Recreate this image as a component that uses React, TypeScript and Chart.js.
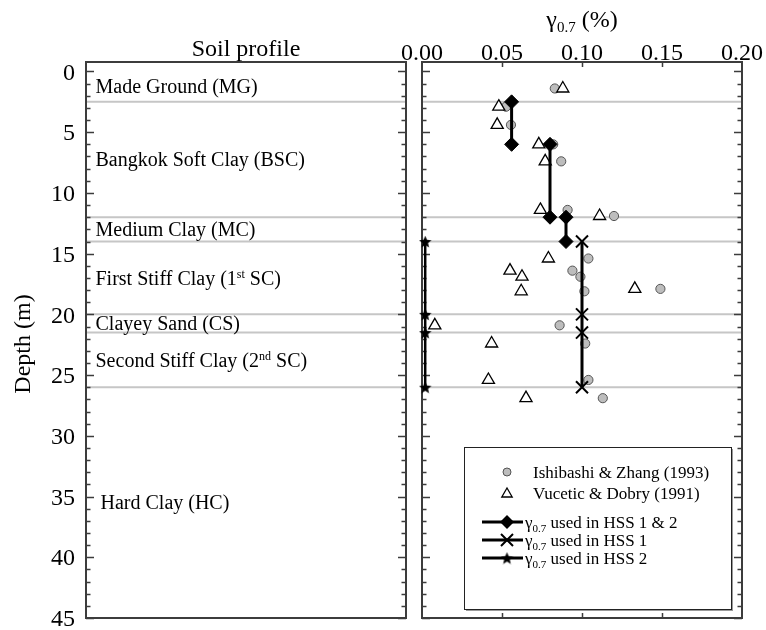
import React, { useEffect, useRef } from "react";
import { Chart, registerables } from "chart.js";

Chart.register(...registerables);

const FONT = '"Liberation Serif", "Times New Roman", serif';

// Depth axis (m), drawn downwards
const depthMin = -0.78;
const depthMax = 45;
const depthTicks = [0, 5, 10, 15, 20, 25, 30, 35, 40, 45];

// Threshold shear strain axis (%)
const strainTicks = [0, 0.05, 0.1, 0.15, 0.2];

// Soil profile: layer boundaries (m) and names
const layerBoundaries = [0, 2.5, 12, 14, 20, 21.5, 26, 45];
const layerNames = [
  "Made Ground (MG)",
  "Bangkok Soft Clay (BSC)",
  "Medium Clay (MC)",
  "First Stiff Clay (1^{st} SC)",
  "Clayey Sand (CS)",
  "Second Stiff Clay (2^{nd} SC)",
  " Hard Clay (HC)",
];

// Empirical γ0.7 estimates at sample depths
const sampleDepths = [1.4, 2.9, 4.4, 6.0, 7.4, 11.4, 11.9, 15.4, 16.4, 16.9, 17.9, 18.1, 20.9, 22.4, 25.4, 26.9];
const ishibashiGamma = [0.083, 0.0525, 0.0556, 0.082, 0.087, 0.091, 0.12, 0.104, 0.094, 0.099, 0.149, 0.1015, 0.086, 0.102, 0.104, 0.113];
const vuceticGamma = [0.088, 0.048, 0.047, 0.073, 0.077, 0.074, 0.111, 0.079, 0.055, 0.0625, 0.133, 0.062, 0.008, 0.0435, 0.0415, 0.065];

// Design values of γ0.7
const hss12Depths = [2.5, 6, 6, 12, 12, 14];
const hss12Gamma = [0.056, 0.056, 0.08, 0.08, 0.09, 0.09];
const hss1Depths = [14, 20, 21.5, 26];
const hss1Gamma = [0.1, 0.1, 0.1, 0.1];
const hss2Depths = [14, 20, 21.5, 26];
const hss2Gamma = [0.002, 0.002, 0.002, 0.002];

const legendLabels = [
  "Ishibashi & Zhang (1993)",
  "Vucetic & Dobry (1991)",
  "γ_{0.7} used in HSS 1 & 2",
  "γ_{0.7} used in HSS 1",
  "γ_{0.7} used in HSS 2",
];

const xTitle = "γ_{0.7} (%)";
const leftTitle = "Soil profile";
const yTitle = "Depth (m)";

const FRAME = "#3c3c3c";
const LAYER_LINE = "#c6c6c6";

type Run = { text: string; kind: "n" | "sub" | "sup" };

function parseRich(s: string): Run[] {
  const runs: Run[] = [];
  const re = /([_^])\{([^}]*)\}/g;
  let last = 0;
  let m: RegExpExecArray | null;
  while ((m = re.exec(s))) {
    if (m.index > last) runs.push({ text: s.slice(last, m.index), kind: "n" });
    runs.push({ text: m[2], kind: m[1] === "_" ? "sub" : "sup" });
    last = re.lastIndex;
  }
  if (last < s.length) runs.push({ text: s.slice(last), kind: "n" });
  return runs;
}

function drawRich(
  ctx: CanvasRenderingContext2D,
  s: string,
  x: number,
  yMid: number,
  size: number,
  align: "left" | "center" | "right"
) {
  const runs = parseRich(s);
  const fontFor = (k: string) => `${k === "n" ? size : Math.round(size * 0.62)}px ${FONT}`;
  let total = 0;
  const widths = runs.map((r) => {
    ctx.font = fontFor(r.kind);
    const w = ctx.measureText(r.text).width;
    total += w;
    return w;
  });
  let cx = align === "center" ? x - total / 2 : align === "right" ? x - total : x;
  const base = yMid + size * 0.34;
  ctx.save();
  ctx.fillStyle = "#000";
  ctx.textAlign = "left";
  ctx.textBaseline = "alphabetic";
  runs.forEach((r, i) => {
    ctx.font = fontFor(r.kind);
    const dy = r.kind === "sub" ? size * 0.22 : r.kind === "sup" ? -size * 0.36 : 0;
    ctx.fillText(r.text, cx, base + dy);
    cx += widths[i];
  });
  ctx.restore();
}

function makeStar(size: number): HTMLCanvasElement {
  const c = document.createElement("canvas");
  c.width = size;
  c.height = size;
  const g = c.getContext("2d")!;
  const cx = size / 2;
  const cy = size / 2 + size * 0.05;
  const ro = size / 2;
  const ri = ro * 0.45;
  g.beginPath();
  for (let i = 0; i < 10; i++) {
    const r = i % 2 === 0 ? ro : ri;
    const a = -Math.PI / 2 + (i * Math.PI) / 5;
    const px = cx + r * Math.cos(a);
    const py = cy + r * Math.sin(a);
    if (i === 0) g.moveTo(px, py);
    else g.lineTo(px, py);
  }
  g.closePath();
  g.fillStyle = "#000";
  g.fill();
  return c;
}

// Frame with inward depth ticks on both sides, and layer boundaries
function drawPanel(chart: any) {
  const { ctx, chartArea: a } = chart;
  const y = chart.scales.y;
  ctx.save();
  ctx.strokeStyle = LAYER_LINE;
  ctx.lineWidth = 2;
  layerBoundaries.slice(1, -1).forEach((d) => {
    const py = y.getPixelForValue(d);
    ctx.beginPath();
    ctx.moveTo(a.left, py);
    ctx.lineTo(a.right, py);
    ctx.stroke();
  });
  ctx.strokeStyle = FRAME;
  ctx.lineWidth = 1.5;
  for (let d = 0; d <= depthMax; d++) {
    const py = Math.round(y.getPixelForValue(d)) + 0.5;
    const len = d % 5 === 0 ? 8 : 4.5;
    ctx.beginPath();
    ctx.moveTo(a.left, py);
    ctx.lineTo(a.left + len, py);
    ctx.moveTo(a.right, py);
    ctx.lineTo(a.right - len, py);
    ctx.stroke();
  }
  ctx.lineWidth = 2;
  ctx.strokeRect(a.left, a.top, a.right - a.left, a.bottom - a.top);
  ctx.restore();
}

const soilProfilePlugin = {
  id: "soilProfile",
  afterDraw(chart: any) {
    const { ctx, chartArea: a } = chart;
    const y = chart.scales.y;
    drawPanel(chart);
    y.ticks.forEach((t: any) => {
      drawRich(ctx, String(t.value), a.left - 11, y.getPixelForValue(t.value), 24, "right");
    });
    layerNames.forEach((name, i) => {
      const mid = (layerBoundaries[i] + layerBoundaries[i + 1]) / 2;
      drawRich(ctx, name, a.left + 9.5, y.getPixelForValue(mid), 20, "left");
    });
    drawRich(ctx, leftTitle, (a.left + a.right) / 2, 48, 24, "center");
    ctx.save();
    ctx.translate(22, (a.top + a.bottom) / 2 + 4);
    ctx.rotate(-Math.PI / 2);
    drawRich(ctx, yTitle, 0, 0, 24, "center");
    ctx.restore();
  },
};

function makeStrainPlugin(star: HTMLCanvasElement) {
  return {
    id: "strainPanel",
    beforeDatasetsDraw(chart: any) {
      const { ctx, chartArea: a } = chart;
      const x = chart.scales.x;
      drawPanel(chart);
      ctx.save();
      ctx.strokeStyle = FRAME;
      ctx.lineWidth = 1.5;
      x.ticks.forEach((t: any) => {
        if (t.value <= x.min || t.value >= x.max) return;
        const px = Math.round(x.getPixelForValue(t.value)) + 0.5;
        ctx.beginPath();
        ctx.moveTo(px, a.top);
        ctx.lineTo(px, a.top + 5);
        ctx.moveTo(px, a.bottom);
        ctx.lineTo(px, a.bottom - 5);
        ctx.stroke();
      });
      ctx.restore();
      x.ticks.forEach((t: any) => {
        drawRich(ctx, Number(t.value).toFixed(2), x.getPixelForValue(t.value), a.top - 10, 24, "center");
      });
    },
    afterDraw(chart: any) {
      const { ctx, chartArea: a } = chart;
      drawRich(ctx, xTitle, (a.left + a.right) / 2, 19, 24, "center");

      // legend box
      const bw = 267;
      const bh = 162;
      const bx = a.right - 11 - bw;
      const by = a.bottom - 9 - bh;
      ctx.save();
      ctx.fillStyle = "#fff";
      ctx.fillRect(bx, by, bw, bh);
      ctx.strokeStyle = "#9a9a9a";
      ctx.lineWidth = 2;
      ctx.beginPath();
      ctx.moveTo(bx + bw + 1, by + 2);
      ctx.lineTo(bx + bw + 1, by + bh + 1);
      ctx.lineTo(bx + 2, by + bh + 1);
      ctx.stroke();
      ctx.strokeStyle = "#222";
      ctx.lineWidth = 1;
      ctx.strokeRect(bx + 0.5, by + 0.5, bw, bh);

      const mx = bx + 43;
      const rows = [25, 46, 75, 93, 111].map((r) => by + r);

      // circle
      ctx.beginPath();
      ctx.arc(mx, rows[0], 4, 0, Math.PI * 2);
      ctx.fillStyle = "#bdbdbd";
      ctx.fill();
      ctx.strokeStyle = "#555";
      ctx.lineWidth = 1;
      ctx.stroke();

      // triangle
      const tr = 6;
      ctx.beginPath();
      for (let k = 0; k < 3; k++) {
        const ang = (k * 2 * Math.PI) / 3;
        const px = mx + Math.sin(ang) * tr;
        const py = rows[1] + 1 - Math.cos(ang) * tr;
        if (k === 0) ctx.moveTo(px, py);
        else ctx.lineTo(px, py);
      }
      ctx.closePath();
      ctx.fillStyle = "#fff";
      ctx.fill();
      ctx.strokeStyle = "#000";
      ctx.lineWidth = 1.3;
      ctx.stroke();

      // line samples
      ctx.strokeStyle = "#000";
      ctx.lineWidth = 3;
      [2, 3, 4].forEach((i) => {
        ctx.beginPath();
        ctx.moveTo(bx + 18, rows[i]);
        ctx.lineTo(bx + 59, rows[i]);
        ctx.stroke();
      });
      // diamond
      ctx.beginPath();
      ctx.moveTo(mx - 7, rows[2]);
      ctx.lineTo(mx, rows[2] - 7);
      ctx.lineTo(mx + 7, rows[2]);
      ctx.lineTo(mx, rows[2] + 7);
      ctx.closePath();
      ctx.fillStyle = "#000";
      ctx.fill();
      // cross
      ctx.lineWidth = 2;
      ctx.beginPath();
      ctx.moveTo(mx - 6, rows[3] - 6);
      ctx.lineTo(mx + 6, rows[3] + 6);
      ctx.moveTo(mx + 6, rows[3] - 6);
      ctx.lineTo(mx - 6, rows[3] + 6);
      ctx.stroke();
      // star
      ctx.drawImage(star, mx - star.width / 2, rows[4] - star.height / 2);
      ctx.restore();

      legendLabels.forEach((t, i) => {
        drawRich(ctx, t, bx + (i < 2 ? 69 : 61), rows[i], 17, "left");
      });
    },
  };
}

const pts = (xs: number[], ys: number[]) => xs.map((v, i) => ({ x: v, y: ys[i] }));

export default function App() {
  const leftRef = useRef<HTMLCanvasElement>(null);
  const rightRef = useRef<HTMLCanvasElement>(null);

  useEffect(() => {
    const star = makeStar(13);

    const left = new Chart(leftRef.current!, {
      type: "scatter",
      data: { datasets: [] },
      options: {
        animation: false,
        responsive: false,
        layout: { padding: { left: 0, top: 62, right: 4, bottom: 12 } },
        plugins: { legend: { display: false }, tooltip: { enabled: false } },
        scales: {
          x: { display: false, min: 0, max: 1 },
          y: {
            reverse: true,
            min: depthMin,
            max: depthMax,
            afterFit: (s: any) => {
              s.width = 86;
            },
            afterBuildTicks: (s: any) => {
              s.ticks = depthTicks.map((v) => ({ value: v }));
            },
            grid: { display: false, drawTicks: false },
            border: { display: false },
            ticks: { display: false },
          },
        },
      },
      plugins: [soilProfilePlugin],
    } as any);

    const right = new Chart(rightRef.current!, {
      type: "scatter",
      data: {
        datasets: [
          {
            label: "HSS 1 & 2",
            data: pts(hss12Gamma, hss12Depths),
            showLine: true,
            borderColor: "#000",
            borderWidth: 3,
            pointStyle: "rectRot",
            pointRadius: 7,
            pointBackgroundColor: "#000",
            pointBorderColor: "#000",
            pointBorderWidth: 1,
            clip: false,
            segment: {
              borderColor: (c: any) => (c.p0.parsed.x !== c.p1.parsed.x ? "rgba(0,0,0,0)" : undefined),
            },
          },
          {
            label: "HSS 1",
            data: pts(hss1Gamma, hss1Depths),
            showLine: true,
            borderColor: "#000",
            borderWidth: 3,
            pointStyle: "crossRot",
            pointRadius: 8.5,
            pointBorderColor: "#000",
            pointBorderWidth: 2,
            clip: false,
          },
          {
            label: "HSS 2",
            data: pts(hss2Gamma, hss2Depths),
            showLine: true,
            borderColor: "#000",
            borderWidth: 2.5,
            pointStyle: star,
            pointRadius: 7,
            clip: false,
          },
          {
            label: "Vucetic & Dobry (1991)",
            data: pts(vuceticGamma, sampleDepths),
            pointStyle: "triangle",
            pointRadius: 7,
            pointBackgroundColor: "#fff",
            pointBorderColor: "#000",
            pointBorderWidth: 1.3,
            clip: false,
          },
          {
            label: "Ishibashi & Zhang (1993)",
            data: pts(ishibashiGamma, sampleDepths),
            pointStyle: "circle",
            pointRadius: 4.6,
            pointBackgroundColor: "#bdbdbd",
            pointBorderColor: "#555",
            pointBorderWidth: 1,
            clip: false,
          },
        ],
      },
      options: {
        animation: false,
        responsive: false,
        layout: { padding: { left: 52, top: 0, right: 24, bottom: 12 } },
        plugins: { legend: { display: false }, tooltip: { enabled: false } },
        scales: {
          x: {
            position: "top",
            min: 0,
            max: 0.2,
            afterFit: (s: any) => {
              s.height = 62;
            },
            afterBuildTicks: (s: any) => {
              s.ticks = strainTicks.map((v) => ({ value: v }));
            },
            grid: { display: false, drawTicks: false },
            border: { display: false },
            ticks: { display: false },
          },
          y: { display: false, reverse: true, min: depthMin, max: depthMax },
        },
      },
      plugins: [makeStrainPlugin(star)],
    } as any);

    return () => {
      left.destroy();
      right.destroy();
    };
  }, []);

  return (
    <div style={{ position: "absolute", left: 0, top: 0, width: 766, height: 630, background: "#fff" }}>
      <canvas ref={leftRef} width={410} height={630} style={{ position: "absolute", left: 0, top: 0 }} />
      <canvas ref={rightRef} width={396} height={630} style={{ position: "absolute", left: 370, top: 0 }} />
    </div>
  );
}
